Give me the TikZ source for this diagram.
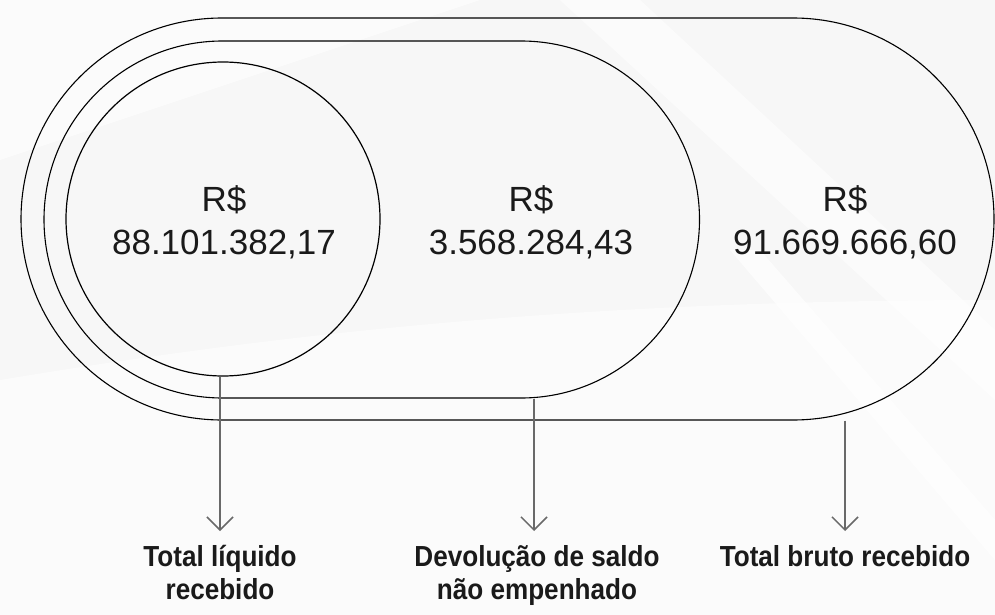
\documentclass[tikz,border=0pt]{standalone}
\usepackage{fontspec}
\setmainfont{Liberation Sans}
\newfontfamily\lblfont[FakeStretch=0.9]{Liberation Sans}
\usetikzlibrary{shapes.misc,arrows.meta}
\definecolor{bgc}{RGB}{247,247,247}
\definecolor{inkc}{RGB}{26,26,26}
\definecolor{linkc}{RGB}{105,105,105}
\tikzset{
  x=1pt,y=-1pt,
  stadium/.style={draw=black,line width=1.1pt,rounded rectangle,inner sep=0pt,fill=none},
  ring/.style={draw=black,line width=1.2pt,circle,inner sep=0pt},
  valtxt/.style={font=\fontsize{35}{43}\selectfont,text=inkc,align=center},
  lbltxt/.style={font=\lblfont\bfseries\fontsize{29}{33}\selectfont,text=inkc,align=center},
  link/.style={draw=linkc,line width=1.5pt,-{Straight Barb[length=13pt,width=26pt,line width=1.5pt]}},
}
\begin{document}
\begin{tikzpicture}
\useasboundingbox (0,0) rectangle (995,615);
\fill[bgc] (0,0) rectangle (995,615);
\fill[white,opacity=0.6] (560,0) -- (640,0) -- (995,330) -- (995,400) -- cycle;
\fill[white,opacity=0.7] (730,250) -- (760,250) -- (995,520) -- (995,560) -- cycle;
\fill[white,opacity=0.5] (0,380) .. controls (300,330) and (600,300) .. (995,300) -- (995,615) -- (0,615) -- cycle;
\fill[white,opacity=0.5] (0,0) -- (480,0) -- (0,160) -- cycle;
% shapes
\node[stadium,minimum width=973pt,minimum height=402pt] (outer) at (507.5,219) {};
\node[stadium,minimum width=655.5pt,minimum height=357pt] (mid) at (371.75,219.5) {};
\node[ring,minimum size=314pt] (circ) at (223,219) {};
% values
\node[valtxt] (v1) at (224,222) {R\$\\88.101.382,17};
\node[valtxt] (v2) at (531,222) {R\$\\3.568.284,43};
\node[valtxt] (v3) at (845,222) {R\$\\91.669.666,60};
% arrow ends
\coordinate (e1) at (220,531);
\coordinate (e2) at (534,531);
\coordinate (e3) at (845,531);
\draw[link] (circ.south -| e1) -- (e1);
\draw[link] (mid.south -| e2) -- (e2);
\draw[link] (outer.south -| e3) -- (e3);
% labels
\node[lbltxt,anchor=north] (l1) at (220,542) {Total líquido\\recebido};
\node[lbltxt,anchor=north] (l2) at (537,542) {Devolução de saldo\\não empenhado};
\node[lbltxt,anchor=north] (l3) at (845,542) {Total bruto recebido};
\end{tikzpicture}
\end{document}
